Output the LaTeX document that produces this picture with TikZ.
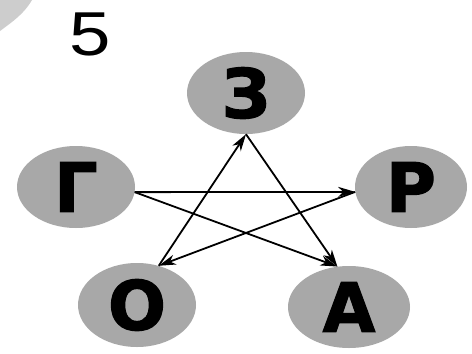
\documentclass[tikz,border=0pt]{standalone}
\usepackage{fontspec}
\setmainfont{DejaVu Sans}
\newfontfamily\numfont{Liberation Sans}
\newfontfamily\heavyfont[BoldFeatures={FakeBold=1.8}]{DejaVu Sans}
\usetikzlibrary{arrows.meta,shapes.geometric}
\definecolor{disc}{RGB}{168,168,168}
\definecolor{blob}{RGB}{205,205,205}
\begin{document}
\begin{tikzpicture}[x=1pt,y=-1pt,
  letter/.style={ellipse, fill=disc, draw=none, inner sep=0pt,
    minimum width=118pt, minimum height=82pt,
    font=\heavyfont\fontsize{68}{68}\selectfont\bfseries, text=black},
  conn/.style={line width=1.8pt, draw=black,
    -{Stealth[length=17pt,width=10pt,inset=5pt]}}]
\useasboundingbox (0,0) rectangle (472,354);
\fill[white] (0,0) rectangle (472,354);
\fill[blob] (0,0) -- (32,0) .. controls (24,14) and (12,22) .. (0,31) -- cycle;
\node[font=\numfont\fontsize{62}{62}\selectfont, xscale=1.2] (num) at (90,34) {5};
\node[letter] (z) at (246,93) {З};
\node[letter] (g) at (76,187) {Г};
\node[letter, minimum width=112pt] (r) at (411,187) {Р};
\node[letter, minimum height=84pt] (o) at (137,305) {О};
\node[letter, minimum width=122pt] (a) at (349,307) {А};
\draw[conn] (g.-5) -- (r.185);
\draw[conn] (g.-5) -- (a.106);
\draw[conn] (r.185) -- (o.61);
\draw[conn] (o.61) -- (z.south);
\draw[conn] (z.south) -- (a.106);
\end{tikzpicture}
\end{document}
